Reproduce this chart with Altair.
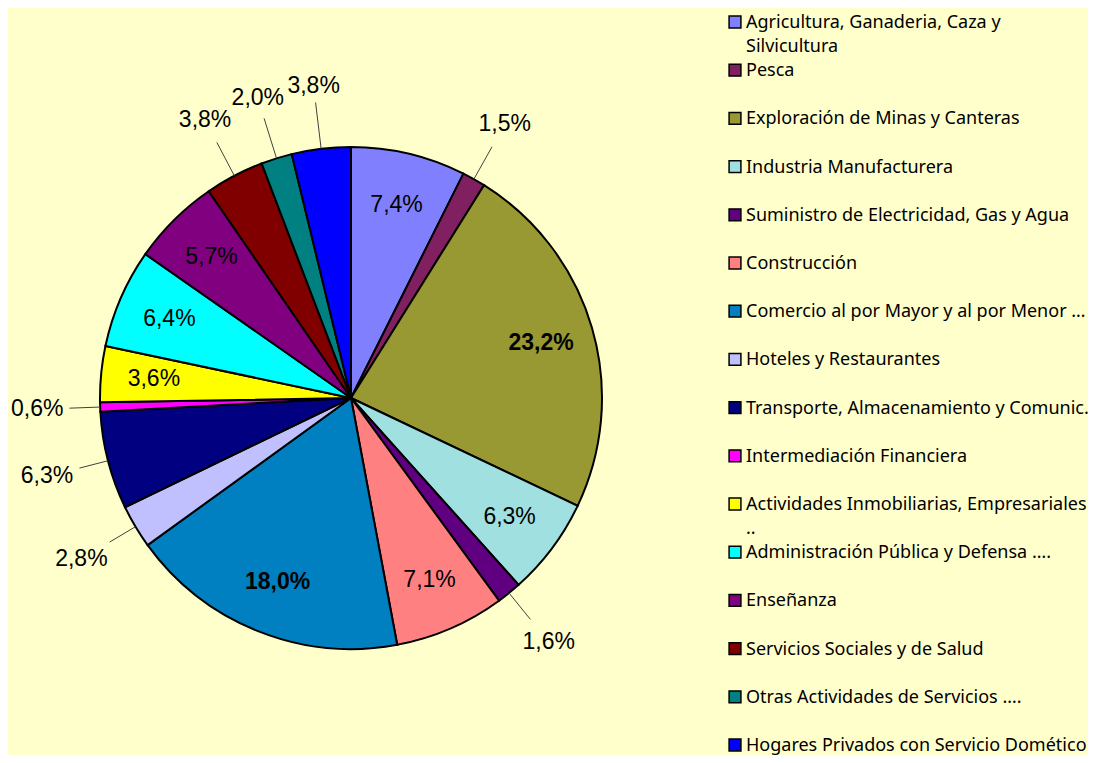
import altair as alt
import pandas as pd

sectors = [
    "Agricultura, Ganaderia, Caza y\nSilvicultura",
    "Pesca",
    "Exploración de Minas y Canteras",
    "Industria Manufacturera",
    "Suministro de Electricidad, Gas y Agua",
    "Construcción",
    "Comercio al por Mayor y al por Menor …",
    "Hoteles y Restaurantes",
    "Transporte, Almacenamiento y Comunic.",
    "Intermediación Financiera",
    "Actividades Inmobiliarias, Empresariales\n..",
    "Administración Pública y Defensa ….",
    "Enseñanza",
    "Servicios Sociales y de Salud",
    "Otras Actividades de Servicios ….",
    "Hogares Privados con Servicio Domético",
]
values = [7.4, 1.5, 23.2, 6.3, 1.6, 7.1, 18.0, 2.8, 6.3, 0.6, 3.6, 6.4, 5.7, 3.8, 2.0, 3.8]
colors = ["#8080FF", "#802060", "#999933", "#A0E0E0", "#600080", "#FF8080",
          "#0080C0", "#C0C0FF", "#000080", "#FF00FF", "#FFFF00", "#00FFFF",
          "#800080", "#800000", "#008080", "#0000FF"]
label_outside = [0, 1, 0, 0, 1, 0, 0, 1, 1, 1, 0, 0, 0, 1, 1, 1]

df = pd.DataFrame({
    "idx": list(range(len(sectors))),
    "sector": sectors,
    "value": values,
    "outside": label_outside,
    "label": [f"{v:.1f}".replace(".", ",") + "%" for v in values],
})

CX, CY, R = 343, 390, 251
R_IN, R_OUT = 198, 314

color_scale = alt.Scale(domain=sectors, range=colors)

base = (
    alt.Chart(df)
    .transform_window(cum="sum(value)", sort=[alt.SortField("idx")], frame=[None, 0])
    .transform_joinaggregate(total="sum(value)")
    .transform_calculate(mid="(datum.cum - datum.value/2) / datum.total * 2 * PI")
)

pie = alt.Chart(df).mark_arc(radius=R, stroke="black", strokeWidth=2).encode(
    theta=alt.Theta("value:Q", stack=True),
    order=alt.Order("idx:Q"),
    color=alt.Color("sector:N", scale=color_scale, legend=None),
    x=alt.value(CX),
    y=alt.value(CY),
)

inside = base.transform_filter("datum.outside == 0").transform_calculate(
    px=f"{CX} + {R_IN} * sin(datum.mid)",
    py=f"{CY} - {R_IN} * cos(datum.mid)",
)
inside_norm = inside.transform_filter("datum.value < 15").mark_text(
    font="Liberation Sans", fontSize=23, baseline="middle", align="center", color="black"
).encode(x=alt.X("px:Q", scale=None), y=alt.Y("py:Q", scale=None), text="label:N")
inside_bold = inside.transform_filter("datum.value >= 15").mark_text(
    font="Liberation Sans", fontSize=23, fontWeight="bold", baseline="middle", align="center", color="black"
).encode(x=alt.X("px:Q", scale=None), y=alt.Y("py:Q", scale=None), text="label:N")

outside = base.transform_filter("datum.outside == 1").transform_calculate(
    px=f"{CX} + {R_OUT} * sin(datum.mid)",
    py=f"{CY} - {R_OUT} * cos(datum.mid)",
    rend=f"{R_OUT} - (29 * abs(sin(datum.mid)) + 10 * abs(cos(datum.mid))) - 3",
)
outside_text = outside.mark_text(
    font="Liberation Sans", fontSize=23, baseline="middle", align="center", color="black"
).encode(x=alt.X("px:Q", scale=None), y=alt.Y("py:Q", scale=None), text="label:N")

leaders = outside.transform_calculate(
    x1=f"{CX} + {R} * sin(datum.mid)",
    y1=f"{CY} - {R} * cos(datum.mid)",
    x2=f"{CX} + datum.rend * sin(datum.mid)",
    y2=f"{CY} - datum.rend * cos(datum.mid)",
).mark_rule(color="#404040", strokeWidth=1).encode(
    x=alt.X("x1:Q", scale=None),
    y=alt.Y("y1:Q", scale=None),
    x2="x2:Q",
    y2="y2:Q",
)

leg_y = alt.Y("idx:O", scale=alt.Scale(type="point", range=[14, 737], padding=0), axis=None)
leg_sq = alt.Chart(df).mark_square(size=140, stroke="black", strokeWidth=1.5, opacity=1).encode(
    x=alt.value(727),
    y=leg_y,
    color=alt.Color("sector:N", scale=color_scale, legend=None),
)
leg_txt = alt.Chart(df).mark_text(
    align="left", baseline="alphabetic", dy=6, font="Noto Sans", fontSize=18,
    lineBreak="\n", lineHeight=24, color="black",
).encode(x=alt.value(738), y=leg_y, text="sector:N")

chart = (
    alt.layer(pie, leaders, inside_norm, inside_bold, outside_text, leg_sq, leg_txt)
    .properties(width=1080, height=747, autosize="none", padding=0, background="#FFFFCC")
    .configure_view(stroke=None)
)

chart.save("out.html", embed_options={"renderer": "svg", "actions": False})
